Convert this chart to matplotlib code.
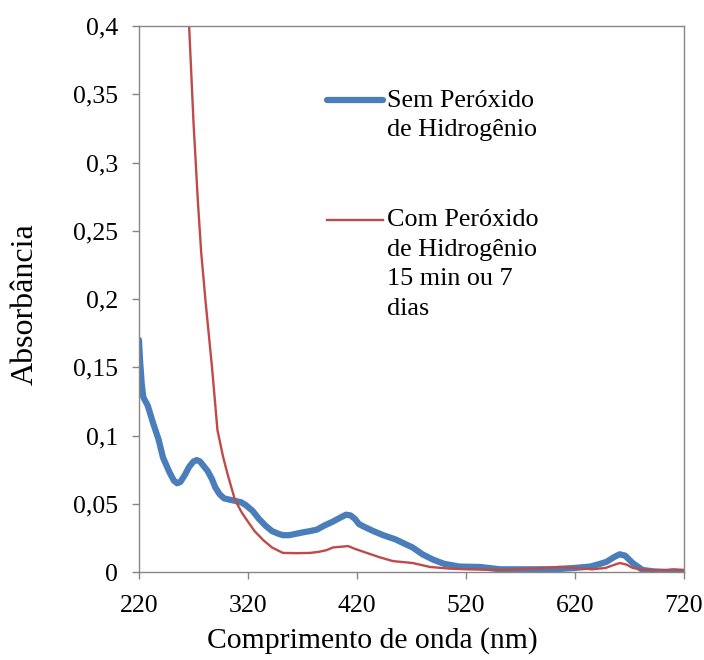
import numpy as np
import matplotlib
matplotlib.use("Agg")
import matplotlib.pyplot as plt
from matplotlib.ticker import FuncFormatter

plt.rcParams['font.family'] = ['Liberation Serif', 'DejaVu Serif']

# espectro sem peroxido
wl_sem = [220, 221, 222.5, 224, 228, 233, 238, 242, 248, 252, 255, 258, 262, 266, 270, 273,
          276, 279, 283, 287, 290, 294, 298, 303, 309, 314, 318, 324, 330, 336, 342, 348,
          352, 358, 364, 370, 377, 383, 390, 398, 405, 410, 414, 418, 422, 427, 435, 444,
          455, 463, 471, 480, 490, 500, 514, 533, 551, 575, 600, 620, 634, 643, 649, 656,
          661, 666, 673, 682, 692, 704, 720]
abs_sem = [0.170, 0.155, 0.138, 0.128, 0.122, 0.109, 0.097, 0.084, 0.073, 0.067, 0.065,
           0.066, 0.071, 0.077, 0.081, 0.082, 0.081, 0.078, 0.074, 0.068, 0.062, 0.057,
           0.054, 0.053, 0.052, 0.051, 0.049, 0.045, 0.039, 0.034, 0.030, 0.028, 0.027,
           0.027, 0.028, 0.029, 0.030, 0.031, 0.034, 0.037, 0.040, 0.042, 0.0415, 0.039,
           0.035, 0.033, 0.030, 0.027, 0.024, 0.021, 0.018, 0.013, 0.009, 0.006, 0.004,
           0.0037, 0.002, 0.002, 0.002, 0.003, 0.004, 0.006, 0.0075, 0.011, 0.013, 0.012,
           0.0065, 0.0015, 0.0005, 0.0, 0.0]

# espectro com peroxido
wl_com = [263, 266, 270, 274, 277, 281, 287, 292, 297, 301, 308, 314, 319, 326, 334, 342,
          352, 365, 377, 385, 392, 398, 405, 412, 418, 429, 440, 453, 471, 487, 505, 521,
          551, 580, 606, 620, 636, 648, 655, 661, 667, 673, 680, 690, 704, 710, 720]
abs_com = [0.44, 0.40, 0.33, 0.272, 0.235, 0.199, 0.150, 0.104, 0.085, 0.0725, 0.053,
           0.044, 0.038, 0.030, 0.0234, 0.018, 0.014, 0.0138, 0.014, 0.0148, 0.016, 0.018,
           0.0185, 0.019, 0.017, 0.014, 0.011, 0.008, 0.0066, 0.0037, 0.0025, 0.002,
           0.0015, 0.0025, 0.0037, 0.003, 0.002, 0.003, 0.005, 0.0066, 0.0055, 0.003,
           0.002, 0.0012, 0.0015, 0.002, 0.0015]

x_ticks = [220, 320, 420, 520, 620, 720]
y_ticks = [0, 0.05, 0.1, 0.15, 0.2, 0.25, 0.3, 0.35, 0.4]

fig = plt.figure(figsize=(7.04, 6.6), dpi=100)
ax = fig.add_axes([0.1974, 0.1333, 0.7742, 0.8273])

ax.plot(wl_sem, abs_sem, color="#4A7EBB", lw=4.5, solid_capstyle="round",
        solid_joinstyle="round", label="Sem Peróxido\nde Hidrogênio")
ax.plot(wl_com, abs_com, color="#BE4B48", lw=1.7,
        label="Com Peróxido\nde Hidrogênio\n15 min ou 7\ndias")

ax.set_xlim(220, 720)
ax.set_ylim(0, 0.4)
ax.set_xticks(x_ticks)
ax.set_yticks(y_ticks)
ax.yaxis.set_major_formatter(FuncFormatter(lambda v, p: ("%g" % v).replace(".", ",")))

for s in ax.spines.values():
    s.set_color("#868686")
    s.set_linewidth(1.0)
ax.tick_params(direction="out", length=5, width=1, color="#868686", labelsize=18.5)
ax.tick_params(axis="x", pad=11.5)
ax.tick_params(axis="y", pad=10)

ax.set_xlabel("Comprimento de onda (nm)", fontsize=21.3)
ax.set_ylabel("Absorbância", fontsize=23)
ax.xaxis.set_label_coords(372 / 704, 1 - 627 / 660, transform=fig.transFigure)
ax.yaxis.set_label_coords(40 / 704, 1 - 304 / 660, transform=fig.transFigure)

leg = ax.legend(loc="upper left", bbox_to_anchor=(0.345, 0.883), frameon=False,
                fontsize=18.8, handlelength=2.15, handletextpad=0.15, handleheight=1.0,
                labelspacing=2.6, borderpad=0, borderaxespad=0)
for t in leg.get_texts():
    t.set_linespacing(1.44)
for col in leg._legend_handle_box.get_children():
    for row in col.get_children():
        row.align = "top"

fig.savefig("out.png", dpi=100)
